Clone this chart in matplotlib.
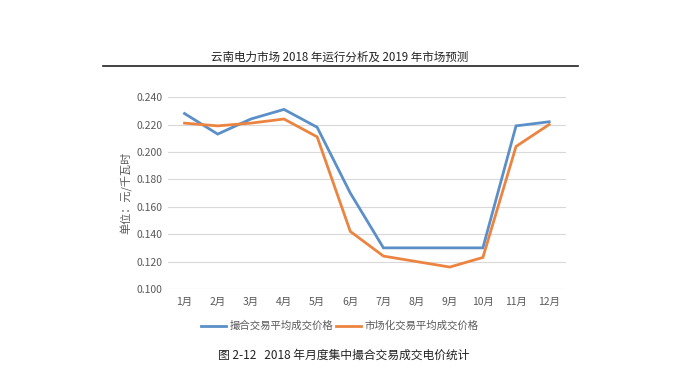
import matplotlib
matplotlib.use("Agg")
import matplotlib.pyplot as plt
from matplotlib.lines import Line2D

plt.rcParams['font.family'] = ['Noto Sans CJK SC', 'DejaVu Sans']

months = ['1月', '2月', '3月', '4月', '5月', '6月', '7月', '8月', '9月', '10月', '11月', '12月']
match_price = [0.228, 0.213, 0.224, 0.231, 0.218, 0.170, 0.130, 0.130, 0.130, 0.130, 0.219, 0.222]
market_price = [0.221, 0.219, 0.221, 0.224, 0.211, 0.142, 0.124, 0.120, 0.116, 0.123, 0.204, 0.220]
yticks = [0.100, 0.120, 0.140, 0.160, 0.180, 0.200, 0.220, 0.240]

blue = '#5b8fc8'
orange = '#ec8441'

fig = plt.figure(figsize=(6.8, 3.8), dpi=100)
ax = fig.add_axes([0.247, 0.2395, 0.585, 0.505])

x = range(1, len(months) + 1)
ax.plot(x, match_price, color=blue, lw=2.0, solid_joinstyle='miter')
ax.plot(x, market_price, color=orange, lw=2.0, solid_joinstyle='miter')

ax.set_xlim(0.5, 12.5)
ax.set_ylim(0.100, 0.240)
ax.set_yticks(yticks)
ax.set_yticklabels([f'{v:.3f}' for v in yticks])
ax.set_xticks(list(x))
ax.set_xticklabels(months)
ax.grid(axis='y', color='#d9d9d9', lw=0.8)
ax.set_axisbelow(True)
for s in ax.spines.values():
    s.set_visible(False)
ax.tick_params(length=0, labelsize=7.5, colors='#595959')
ax.tick_params(axis='y', pad=4)
ax.tick_params(axis='x', pad=6)
ax.set_ylabel('单位：元/千瓦时', fontsize=8, color='#595959', labelpad=3)

# legend
handles = [Line2D([], [], color=blue, lw=2.0), Line2D([], [], color=orange, lw=2.0)]
fig.legend(handles, ['撮合交易平均成交价格', '市场化交易平均成交价格'],
           loc='center', bbox_to_anchor=(0.50, 0.142), ncol=2, frameon=False,
           fontsize=7.5, labelcolor='#595959', handlelength=2.4,
           handletextpad=0.3, columnspacing=0.3)

# header and caption
fig.text(0.5, 0.85, '云南电力市场 2018 年运行分析及 2019 年市场预测', ha='center',
         va='center', fontsize=8.3, color='#222222')
fig.add_artist(Line2D([0.152, 0.85], [0.826, 0.826], color='#222222', lw=1.2))
fig.text(0.505, 0.066, '图 2-12   2018 年月度集中撮合交易成交电价统计', ha='center',
         va='center', fontsize=8.5, color='#222222')

fig.savefig('out.png', dpi=100, facecolor='white')
